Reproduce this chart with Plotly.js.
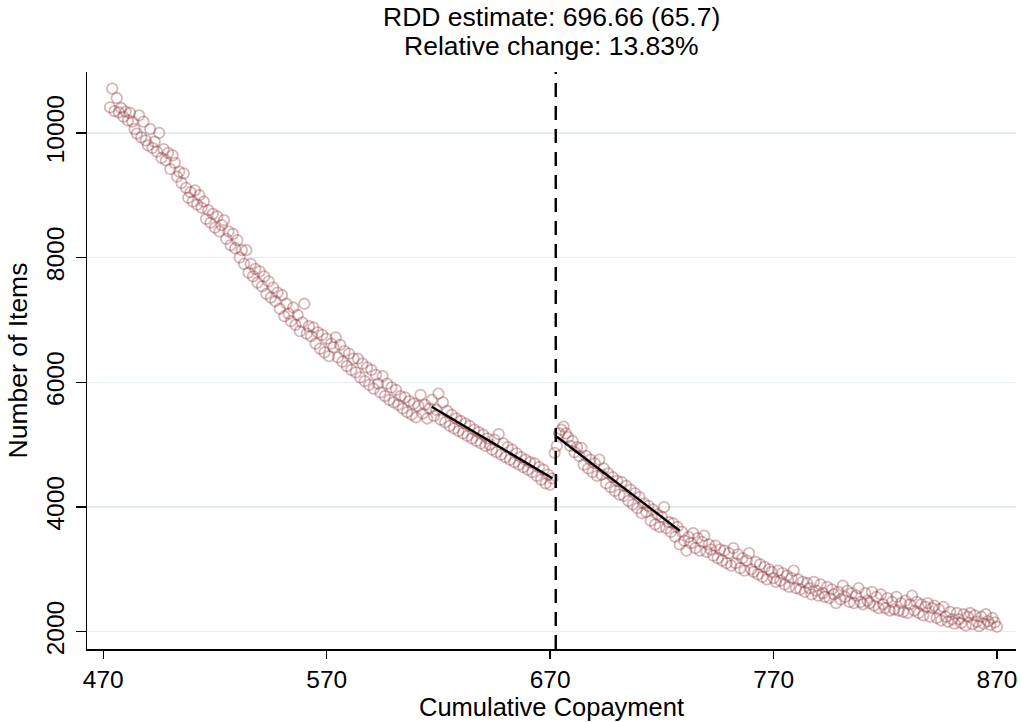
<!DOCTYPE html>
<html>
<head>
<meta charset="utf-8">
<script src="https://cdn.plot.ly/plotly-3.0.1.min.js"></script>
<style>
  html, body { margin: 0; padding: 0; background: #fff; }
  #plot { width: 1021px; height: 722px; }
</style>
</head>
<body>
<div id="plot"></div>
<script>
// binned copayment: left of the cutoff starts at 473, right starts at 673
var leftStart = 473;
var rightStart = 673;
var cutoff = 672.5;

var leftItems = [
    10410, 10710, 10350, 10560, 10330, 10400, 10260, 10340, 10200, 10320,
    10180, 10060, 9990, 10280, 9930, 10180, 9880, 9800, 10060, 9760,
    9860, 9700, 10000, 9600, 9740, 9560, 9680, 9420, 9640, 9520,
    9300, 9380, 9200, 9350, 9120, 8960, 9050, 8900, 9080, 8850,
    9000, 8800, 8900, 8620, 8760, 8560, 8700, 8480, 8660, 8420,
    8520, 8600, 8300, 8420, 8200, 8380, 8150, 8280, 8000, 8120,
    7900, 8120, 7760, 7900, 7700, 7820, 7600, 7780, 7540, 7700,
    7420, 7620, 7360, 7520, 7300, 7440, 7180, 7400, 7060, 7260,
    7100, 6980, 7200, 6920, 7080, 6820, 6960, 7260, 6780, 6900,
    6740, 6880, 6620, 6800, 6540, 6760, 6480, 6700, 6420, 6620,
    6560, 6720, 6400, 6600, 6330, 6500, 6260, 6460, 6200, 6380,
    6160, 6380, 6080, 6300, 6020, 6240, 5960, 6200, 5900, 6120,
    5980, 5840, 6100, 5780, 5980, 5720, 5920, 5680, 5880, 5640,
    5780, 5580, 5760, 5520, 5700, 5480, 5660, 5440, 5620, 5800,
    5500, 5640, 5420, 5580, 5720, 5460, 5560, 5820, 5400, 5680,
    5360, 5540, 5300, 5480, 5260, 5420, 5220, 5380, 5180, 5340,
    5140, 5300, 5100, 5240, 5060, 5200, 5020, 5160, 4980, 5100,
    5000, 4920, 5080, 4880, 5170, 4840, 5020, 4800, 4960, 4760,
    4920, 4720, 4860, 4680, 4800, 4640, 4760, 4600, 4720, 4560,
    4700, 4500, 4640, 4440, 4600, 4380, 4520, 4360, 4460, 4870
];

var rightItems = [
    4980, 5180, 5240, 5290, 5180, 5120, 4980, 5060, 4880, 4960,
    4820, 4950, 4680, 4820, 4620, 4760, 4560, 4700, 4500, 4760,
    4520, 4620, 4380, 4540, 4320, 4480, 4260, 4420, 4200, 4400,
    4180, 4340, 4100, 4280, 4040, 4220, 3980, 4160, 3900, 4060,
    3920, 4020, 3780, 3960, 3720, 3880, 3680, 3840, 4000, 3660,
    3760, 3600, 3740, 3520, 3680, 3400, 3600, 3460, 3300, 3520,
    3420, 3580, 3340, 3500, 3300, 3440, 3540, 3280, 3400, 3320,
    3220, 3380, 3180, 3320, 3140, 3300, 3100, 3260, 3060, 3340,
    3100, 3240, 3020, 3180, 2980, 3140, 3260, 3000, 2960, 3120,
    2920, 3080, 2880, 3040, 2840, 3000, 2960, 2860, 2800, 2980,
    2820, 2940, 2760, 2900, 2720, 2860, 2980, 2700, 2840, 2680,
    2800, 2640, 2780, 2700, 2600, 2800, 2660, 2580, 2760, 2620,
    2560, 2720, 2540, 2680, 2600, 2460, 2640, 2520, 2740, 2560,
    2660, 2480, 2620, 2460, 2580, 2700, 2480, 2440, 2620, 2500,
    2460, 2640, 2420, 2560, 2380, 2600, 2440, 2380, 2540, 2340,
    2480, 2360, 2560, 2340, 2460, 2320, 2500, 2300, 2440, 2580,
    2340, 2480, 2300, 2440, 2260, 2400, 2460, 2240, 2380, 2420,
    2220, 2360, 2180, 2400, 2240, 2160, 2320, 2200, 2130, 2300,
    2200, 2140, 2280, 2100, 2240, 2300, 2120, 2260, 2160, 2090,
    2240, 2130, 2280, 2170, 2110, 2220, 2150, 2080
];

// local linear fits on each side of the cutoff
var fitLeftX = [617, 671];
var fitLeftY = [5608, 4460];
var fitRightX = [673, 728];
var fitRightY = [5127, 3620];

var xTicks = [470, 570, 670, 770, 870];
var yTicks = [2000, 4000, 6000, 8000, 10000];

var titleLines = ['RDD estimate: 696.66 (65.7)', 'Relative change: 13.83%'];
var xLabel = 'Cumulative Copayment';
var yLabel = 'Number of Items';

var xs = [], ys = [];
leftItems.forEach(function (v, i) { xs.push(leftStart + i); ys.push(v); });
rightItems.forEach(function (v, i) { xs.push(rightStart + i); ys.push(v); });

var font = 'Liberation Sans, Arial, sans-serif';
var fs = 26.5;
var tfs = 24.5;
var dotColor = 'rgba(144,53,59,0.36)';

var data = [
    {
        type: 'scatter',
        mode: 'markers',
        x: xs,
        y: ys,
        marker: {
            symbol: 'circle-open',
            size: 10.5,
            color: dotColor,
            line: { width: 1.8, color: dotColor }
        },
        hoverinfo: 'skip'
    },
    {
        type: 'scatter',
        mode: 'lines',
        x: fitLeftX,
        y: fitLeftY,
        line: { color: '#000', width: 2.4 }
    },
    {
        type: 'scatter',
        mode: 'lines',
        x: fitRightX,
        y: fitRightY,
        line: { color: '#000', width: 2.4 }
    }
];

function label(text, y, size) {
    return {
        text: text,
        xref: 'paper', yref: 'paper',
        x: 0.5, y: y,
        xanchor: 'center', yanchor: 'middle',
        showarrow: false,
        borderpad: 0,
        font: { family: font, size: size, color: '#000' }
    };
}

var layout = {
    width: 1021,
    height: 722,
    showlegend: false,
    paper_bgcolor: '#fff',
    plot_bgcolor: '#fff',
    margin: { l: 87, r: 5, t: 72, b: 73 },
    font: { family: font, color: '#000', size: fs },
    xaxis: {
        range: [462.7, 878.5],
        tickvals: xTicks,
        ticktext: xTicks.map(String),
        ticks: 'outside',
        ticklen: 8,
        tickwidth: 1.5,
        tickcolor: '#000',
        ticklabelstandoff: 0,
        showgrid: false,
        zeroline: false,
        showline: true,
        linecolor: '#000',
        linewidth: 1.5,
        tickfont: { family: font, size: tfs }
    },
    yaxis: {
        range: [1723, 10977],
        tickvals: yTicks,
        ticktext: yTicks.map(String),
        tickangle: -90,
        ticks: 'outside',
        ticklen: 10,
        tickwidth: 1.5,
        tickcolor: '#000',
        ticklabelstandoff: 2,
        showgrid: true,
        gridcolor: '#e4edef',
        gridwidth: 1.5,
        zeroline: false,
        showline: true,
        linecolor: '#000',
        linewidth: 1.5,
        tickfont: { family: font, size: tfs },
        title: { text: yLabel, font: { family: font, size: fs }, standoff: 6 }
    },
    annotations: [
        label(titleLines[0], 1.0953, fs),
        label(titleLines[1], 1.0451, fs),
        label(xLabel, -0.1005, 25.5)
    ],
    shapes: [
        {
            type: 'line',
            xref: 'x', yref: 'paper',
            x0: cutoff, x1: cutoff, y0: 0, y1: 1,
            line: { color: '#000', width: 2.4, dash: '14px,9px' }
        }
    ]
};

Plotly.newPlot('plot', data, layout, { displayModeBar: false, staticPlot: true });
</script>
</body>
</html>
